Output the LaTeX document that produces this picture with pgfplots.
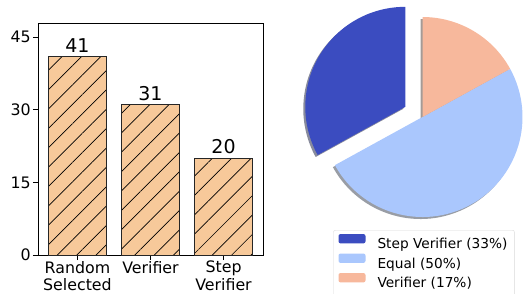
\documentclass[border=0pt]{standalone}
\usepackage{pgfplots}
\pgfplotsset{compat=1.18}
\usepackage{pgfplotstable}
\usepackage{fontspec}
\setmainfont{DejaVu Sans}
\usetikzlibrary{patterns.meta}
\definecolor{barfill}{HTML}{F7C99A}
\definecolor{cStep}{HTML}{3B4CC0}
\definecolor{cEqual}{HTML}{AAC7FD}
\definecolor{cVer}{HTML}{F7B89C}
\newcommand\tickfont{\fontsize{15.8}{17.5}\selectfont}

\pgfplotstableread{
x value
0 41
1 31
2 20
}\bardata

\pgfplotstableread{
label value
Step 33
Equal 50
Verifier 17
}\piedata

\begin{document}%
\begin{tikzpicture}
\pgfplotstablegetelem{0}{value}\of\piedata \let\vA\pgfplotsretval
\pgfplotstablegetelem{1}{value}\of\piedata \let\vB\pgfplotsretval
\pgfplotstablegetelem{2}{value}\of\piedata \let\vC\pgfplotsretval
\pgfmathsetmacro\aA{90}
\pgfmathsetmacro\aB{90+3.6*\vA}
\pgfmathsetmacro\aC{\aB+3.6*\vB}
\pgfmathsetmacro\aD{\aC+3.6*\vC}
\pgfmathsetmacro\midA{(\aA+\aB)/2}
\pgfmathsetmacro\sx{0.2*cos(\midA)}
\pgfmathsetmacro\sy{0.2*sin(\midA)}
\pgfmathsetmacro\shx{\sx-0.02}
\pgfmathsetmacro\shy{\sy-0.02}
\useasboundingbox (0pt,0pt) rectangle (524pt,293pt);
\begin{axis}[
  at={(38pt,38pt)}, anchor=south west,
  scale only axis, width=225pt, height=232pt,
  xmin=-0.54, xmax=2.54, ymin=0, ymax=47.9,
  ytick={0,15,30,45},
  yticklabels={\tickfont 0,\tickfont 15,\tickfont 30,\tickfont 45},
  xtick={0,1,2},
  xticklabels={Random\\Selected, Verifier, Step\\Verifier},
  /pgf/number format/assume math mode=true,
  tick label style={font=\tickfont},
  xticklabel style={align=center, inner sep=1pt},
  yticklabel style={font=\tickfont, inner sep=1pt, xshift=-1pt},
  tick align=outside, major tick length=5pt,
  xtick pos=bottom, ytick pos=left,
  axis line style={line width=0.9pt},
  every tick/.style={black, line width=0.8pt},
  nodes near coords,
  nodes near coords style={font=\fontsize{19}{20}\selectfont, anchor=south, inner sep=0pt, yshift=4pt},
]
\addplot[ybar, bar width=0.8, fill=barfill, draw=black!85, line width=0.8pt,
  postaction={pattern={Lines[angle=45,distance=13.7pt,line width=0.7pt]}}]
  table[x=x, y=value] {\bardata};
\end{axis}

\begin{axis}[
  at={(322.5pt,76pt)}, anchor=south west,
  scale only axis, width=200pt, height=200pt,
  xmin=-1, xmax=1, ymin=-1, ymax=1,
  hide axis, clip=false,
  legend cell align=left,
  legend image code/.code={\fill[#1, draw=none] (0pt,0.4pt) rectangle (27pt,9.7pt); \path[draw=none,fill=none] (0pt,0.4pt) -- (37pt,0.4pt);},
  legend style={at={(axis description cs:0.054,-0.065)}, anchor=north west,
    draw=black!15, rounded corners=2pt, font=\fontsize{13.7}{15}\selectfont,
    inner xsep=5pt, inner ysep=3.8pt, row sep=0pt,
    nodes={inner sep=2pt, text height=12.5pt, text depth=3pt}},
]
% shadows
\fill[cStep!30!black, opacity=0.5] (axis cs:\shx,\shy) -- ++(\aA:100pt) arc[start angle=\aA, end angle=\aB, radius=100pt] -- cycle;
\fill[cEqual!30!black, opacity=0.5] (axis cs:-0.02,-0.02) -- ++(\aB:100pt) arc[start angle=\aB, end angle=\aC, radius=100pt] -- cycle;
\fill[cVer!30!black, opacity=0.5] (axis cs:-0.02,-0.02) -- ++(\aC:100pt) arc[start angle=\aC, end angle=\aD, radius=100pt] -- cycle;
% wedges
\fill[cStep] (axis cs:\sx,\sy) -- ++(\aA:100pt) arc[start angle=\aA, end angle=\aB, radius=100pt] -- cycle;
\fill[cEqual] (axis cs:0,0) -- ++(\aB:100pt) arc[start angle=\aB, end angle=\aC, radius=100pt] -- cycle;
\fill[cVer] (axis cs:0,0) -- ++(\aC:100pt) arc[start angle=\aC, end angle=\aD, radius=100pt] -- cycle;
\addlegendimage{fill=cStep, draw=none}
\addlegendentry{Step Verifier (33\%)}
\addlegendimage{fill=cEqual, draw=none}
\addlegendentry{Equal (50\%)}
\addlegendimage{fill=cVer, draw=none}
\addlegendentry{Verifier (17\%)}
\end{axis}
\end{tikzpicture}%
\end{document}
